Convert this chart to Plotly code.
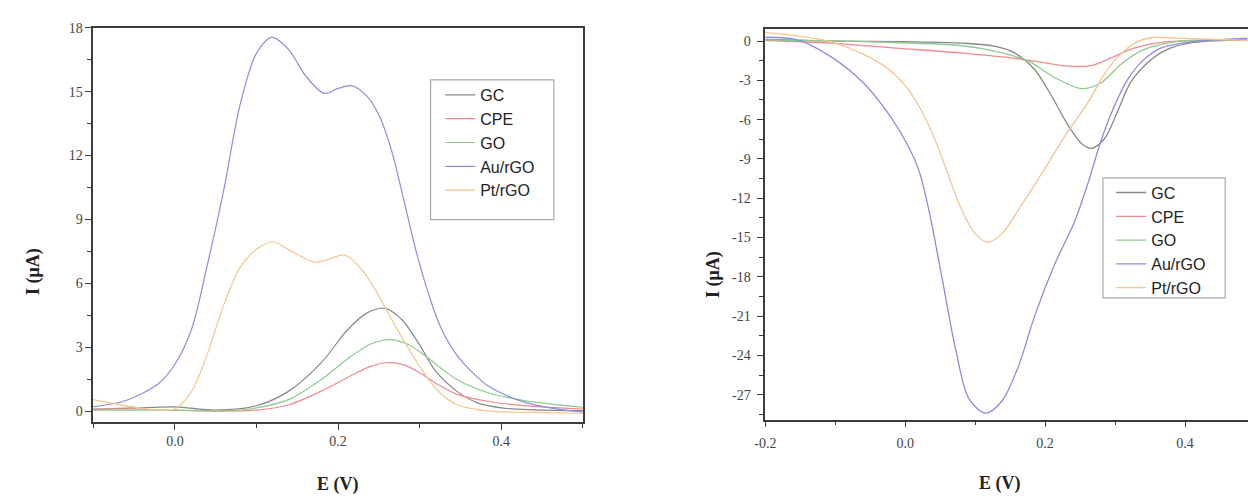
import plotly.graph_objects as go

# ---------------- data ----------------
series_names = ["GC", "CPE", "GO", "Au/rGO", "Pt/rGO"]
series_colors = ["#888888", "#f08a90", "#8fca8f", "#8c8ce0", "#f8c48a"]

# Left panel (oxidation)
gc_left_x = [-0.1, -0.05, 0.0, 0.05, 0.1, 0.14, 0.18, 0.21, 0.235, 0.257, 0.278, 0.3, 0.32, 0.345, 0.37, 0.4, 0.44, 0.5]
gc_left_y = [0.08, 0.15, 0.2, 0.05, 0.25, 0.95, 2.3, 3.75, 4.6, 4.82, 4.3, 3.1, 1.85, 0.95, 0.4, 0.15, 0.06, 0.02]

cpe_left_x = [-0.1, -0.05, 0.0, 0.06, 0.1, 0.14, 0.18, 0.215, 0.24, 0.26, 0.28, 0.3, 0.32, 0.345, 0.385, 0.43, 0.5]
cpe_left_y = [0.1, 0.1, 0.03, 0.0, 0.05, 0.3, 0.95, 1.65, 2.1, 2.27, 2.18, 1.8, 1.3, 0.8, 0.45, 0.25, 0.1]

go_left_x = [-0.1, 0.0, 0.06, 0.1, 0.14, 0.18, 0.215, 0.24, 0.263, 0.285, 0.305, 0.325, 0.345, 0.385, 0.43, 0.5]
go_left_y = [0.05, 0.05, 0.02, 0.15, 0.55, 1.5, 2.55, 3.15, 3.36, 3.15, 2.65, 2.05, 1.5, 0.85, 0.48, 0.18]

au_left_x = [-0.1, -0.06, -0.02, 0.0, 0.02, 0.04, 0.06, 0.08, 0.1, 0.119, 0.14, 0.16, 0.183, 0.2, 0.217,
             0.235, 0.25, 0.265, 0.28, 0.295, 0.31, 0.325, 0.345, 0.365, 0.385, 0.425, 0.46, 0.5]
au_left_y = [0.2, 0.5, 1.3, 2.2, 3.8, 6.9, 10.4, 14.4, 16.8, 17.55, 16.95, 15.75, 14.92, 15.15, 15.27,
             14.8, 13.9, 12.3, 10.0, 7.6, 5.6, 4.0, 2.65, 1.8, 1.15, 0.46, 0.15, -0.05]

pt_left_x = [-0.1, -0.06, -0.02, 0.0, 0.02, 0.04, 0.06, 0.08, 0.1, 0.12, 0.143, 0.172, 0.19, 0.208,
             0.23, 0.25, 0.27, 0.295, 0.32, 0.345, 0.386, 0.44, 0.5]
pt_left_y = [0.54, 0.25, 0.05, 0.1, 0.9, 2.7, 5.0, 6.75, 7.6, 7.95, 7.5, 6.99, 7.15, 7.33,
             6.6, 5.4, 4.0, 2.4, 1.05, 0.31, 0.0, -0.06, -0.1]

# Right panel (reduction)
gc_right_x = [-0.2, -0.1, 0.0, 0.082, 0.129, 0.157, 0.185, 0.209, 0.233, 0.252, 0.266, 0.285, 0.303, 0.322, 0.346, 0.374, 0.412, 0.489]
gc_right_y = [0.12, 0.0, -0.05, -0.16, -0.41, -0.92, -2.17, -4.18, -6.44, -7.82, -8.19, -7.44, -5.44, -3.18, -1.67, -0.66, -0.11, 0.1]

cpe_right_x = [-0.2, -0.107, -0.013, 0.082, 0.152, 0.2, 0.233, 0.266, 0.294, 0.327, 0.365, 0.489]
cpe_right_y = [0.04, -0.16, -0.54, -0.92, -1.29, -1.67, -1.92, -1.87, -1.29, -0.54, -0.1, 0.09]

go_right_x = [-0.2, -0.06, 0.082, 0.129, 0.176, 0.214, 0.252, 0.28, 0.308, 0.341, 0.388, 0.489]
go_right_y = [0.09, -0.04, -0.36, -0.79, -1.54, -2.8, -3.63, -3.18, -1.79, -0.66, -0.04, 0.09]

au_right_x = [-0.2, -0.154, -0.107, -0.06, -0.022, 0.004, 0.02, 0.035, 0.053, 0.072, 0.091, 0.115, 0.138,
              0.162, 0.185, 0.214, 0.242, 0.261, 0.28, 0.297, 0.318, 0.341, 0.365, 0.412, 0.489]
au_right_y = [0.29, 0.09, -1.17, -3.18, -5.69, -8.0, -9.95, -13.2, -18.2, -23.5, -27.3, -28.4, -27.5,
              -24.8, -21.0, -17.0, -13.8, -10.9, -7.6, -5.2, -2.92, -1.42, -0.54, -0.04, 0.21]

pt_right_x = [-0.2, -0.154, -0.107, -0.06, -0.02, 0.0, 0.02, 0.04, 0.06, 0.08, 0.1, 0.117, 0.138, 0.167,
              0.2, 0.23, 0.26, 0.285, 0.308, 0.33, 0.35, 0.388, 0.489]
pt_right_y = [0.64, 0.39, -0.04, -1.0, -2.3, -3.4, -5.0, -7.2, -10.0, -12.8, -14.7, -15.35, -14.72, -12.46,
              -9.7, -7.1, -4.8, -2.5, -1.0, -0.1, 0.25, 0.22, 0.05]

# ticks
left_x_tickvals = [0.0, 0.2, 0.4]
left_x_ticktext = ["0.0", "0.2", "0.4"]
left_y_tickvals = [0, 3, 6, 9, 12, 15, 18]
left_y_ticktext = ["0", "3", "6", "9", "12", "15", "18"]
right_x_tickvals = [-0.2, 0.0, 0.2, 0.4]
right_x_ticktext = ["-0.2", "0.0", "0.2", "0.4"]
right_y_tickvals = [0, -3, -6, -9, -12, -15, -18, -21, -24, -27]
right_y_ticktext = ["0", "-3", "-6", "-9", "-12", "-15", "-18", "-21", "-24", "-27"]

x_title = "E (V)"
y_title = "I (μA)"

# ---------------- figure ----------------
W, H = 1248, 496
fig = go.Figure()

left_data = [(gc_left_x, gc_left_y), (cpe_left_x, cpe_left_y), (go_left_x, go_left_y),
             (au_left_x, au_left_y), (pt_left_x, pt_left_y)]
right_data = [(gc_right_x, gc_right_y), (cpe_right_x, cpe_right_y), (go_right_x, go_right_y),
              (au_right_x, au_right_y), (pt_right_x, pt_right_y)]

for name, color, (xs, ys) in zip(series_names, series_colors, left_data):
    fig.add_trace(go.Scatter(x=xs, y=ys, name=name, mode="lines",
                             line=dict(color=color, width=1.2, shape="spline", smoothing=0.9),
                             xaxis="x", yaxis="y", legend="legend"))
for name, color, (xs, ys) in zip(series_names, series_colors, right_data):
    fig.add_trace(go.Scatter(x=xs, y=ys, name=name, mode="lines",
                             line=dict(color=color, width=1.3, shape="spline", smoothing=0.9),
                             xaxis="x2", yaxis="y2", legend="legend2"))

def px(x):
    return x / W

def py(y):
    return 1 - y / H

axis_line = "#3c3c3c"
tick_font = dict(family="Liberation Serif, Times New Roman, serif", size=14, color="#444")

common = dict(showline=True, linecolor=axis_line, linewidth=1.6, showgrid=False, zeroline=False,
              ticks="outside", ticklen=6, tickwidth=1.3, tickcolor=axis_line, tickfont=tick_font,
              tickmode="array")

fig.update_layout(
    width=W, height=H,
    margin=dict(l=0, r=0, t=0, b=0),
    paper_bgcolor="white", plot_bgcolor="white",
    hovermode=False,
    xaxis=dict(domain=[px(83), px(577)], range=[-0.1, 0.5], anchor="y", mirror=True,
               tickvals=left_x_tickvals, ticktext=left_x_ticktext,
               minor=dict(ticks="outside", ticklen=4, tickwidth=1.2, tickcolor=axis_line,
                          tickmode="linear", tick0=0, dtick=0.1),
               **common),
    yaxis=dict(domain=[py(420.7), py(21)], range=[-0.5, 18], anchor="x", mirror=True,
               tickvals=left_y_tickvals, ticktext=left_y_ticktext,
               minor=dict(ticks="outside", ticklen=4, tickwidth=1.2, tickcolor=axis_line,
                          tickmode="linear", tick0=0, dtick=1.5),
               **common),
    xaxis2=dict(domain=[px(761), 1.0], range=[-0.2, 0.49], anchor="y2", mirror=True,
                tickvals=right_x_tickvals, ticktext=right_x_ticktext,
                ticklabelstandoff=4,
                minor=dict(ticks="outside", ticklen=4, tickwidth=1.2, tickcolor=axis_line,
                           tickmode="linear", tick0=0, dtick=0.1),
                **common),
    yaxis2=dict(domain=[py(418.5), py(22.3)], range=[-28.9, 0.92], anchor="x2", mirror=False,
                tickvals=right_y_tickvals, ticktext=right_y_ticktext,
                ticklabelstandoff=4,
                minor=dict(ticks="outside", ticklen=4, tickwidth=1.2, tickcolor=axis_line,
                           tickmode="linear", tick0=0, dtick=1.5),
                **common),
    legend=dict(x=px(433), y=py(72), xanchor="left", yanchor="top",
                bgcolor="rgba(0,0,0,0)", borderwidth=0, tracegroupgap=0,
                font=dict(family="Liberation Sans, Arial, sans-serif", size=16, color="#222")),
    legend2=dict(x=px(1110), y=py(171), xanchor="left", yanchor="top",
                 bgcolor="rgba(0,0,0,0)", borderwidth=0, tracegroupgap=0,
                 font=dict(family="Liberation Sans, Arial, sans-serif", size=16, color="#222")),
    showlegend=True,
)

# legend frames
fig.add_shape(type="rect", xref="paper", yref="paper", x0=px(423.3), x1=px(547.7), y0=py(215.7), y1=py(74),
              line=dict(color="#a8a8a8", width=1.2), fillcolor="rgba(0,0,0,0)", layer="below")
fig.add_shape(type="rect", xref="paper", yref="paper", x0=px(1101.7), x1=px(1225), y0=py(295), y1=py(173.3),
              line=dict(color="#a8a8a8", width=1.2), fillcolor="rgba(0,0,0,0)", layer="below")

title_font = dict(family="Liberation Serif, Times New Roman, serif", size=18, color="#222")
for (xx, yy, txt, ang) in [(330, 484, x_title, 0), (998, 483, x_title, 0),
                           (22, 268, y_title, -90), (708, 271, y_title, -90)]:
    fig.add_annotation(x=px(xx), y=py(yy), xref="paper", yref="paper", text="<b>" + txt + "</b>",
                       showarrow=False, textangle=ang, font=title_font,
                       xanchor="center", yanchor="middle")

# remove the default page margin so the figure fills the window exactly; hide the mode bar
fig.write_html("out.html", config={"displayModeBar": False},
               post_script="document.body.style.margin='0';")
